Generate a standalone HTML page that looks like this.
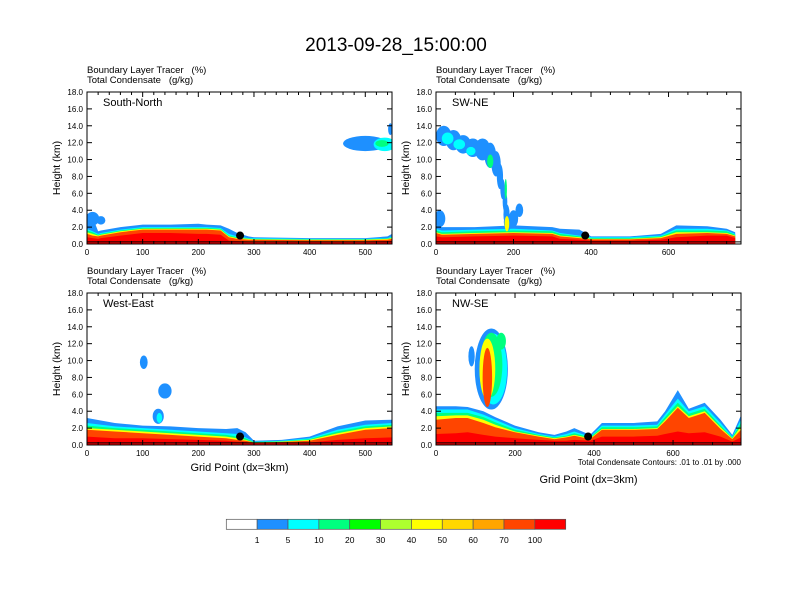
<!DOCTYPE html>
<html><head><meta charset="utf-8"><style>
body{margin:0;background:#fff;width:792px;height:612px;overflow:hidden}
svg{display:block;font-family:"Liberation Sans",sans-serif}
text{white-space:pre}
</style></head><body>
<svg id="c" width="792" height="612">
<text x="396" y="51" font-size="19" text-anchor="middle">2013-09-28_15:00:00</text>
</svg>
<script>
const colorLevels=["1","5","10","20","30","40","50","60","70","100"];
const colorFills=["#ffffff","#1e90ff","#00ffff","#00ff7f","#00ff00","#adff2f","#ffff00","#ffd700","#ffa500","#ff4500","#ff0000"];
const layerColors=["#1e90ff","#00ffff","#00ff7f","#ffff00","#ff4500","#ff0000"];

const snX=[0,10,20,25,60,100,150,200,215,240,255,270,290,300,400,500,540,548];
const snTops=[
[3.6,3.2,1.5,1.6,2.0,2.3,2.3,2.4,2.3,2.2,1.8,1.3,0.9,0.8,0.7,0.7,0.9,1.2],
[1.8,1.5,1.2,1.3,1.7,2.0,2.0,2.0,2.0,1.9,1.2,0.9,0.7,0.7,0.6,0.6,0.7,0.9],
[1.6,1.4,1.1,1.2,1.6,1.9,1.9,1.9,1.9,1.8,1.0,0.8,0.65,0.6,0.55,0.55,0.65,0.8],
[1.4,1.2,1.0,1.1,1.5,1.8,1.8,1.8,1.8,1.7,0.9,0.7,0.6,0.55,0.5,0.5,0.6,0.7],
[1.2,1.0,0.9,1.0,1.4,1.7,1.7,1.7,1.7,1.6,0.8,0.6,0.5,0.5,0.45,0.45,0.5,0.6],
[0.8,0.7,0.6,0.7,1.0,1.3,1.3,1.2,1.2,1.1,0.4,0.35,0.3,0.3,0.3,0.3,0.35,0.4]];
const snBlobX=[10,25,500,535,545,530];
const snBlobZ=[3.0,2.8,11.9,11.8,13.6,11.9];
const snBlobRX=[12,8,40,20,4,12];
const snBlobRZ=[0.8,0.5,0.9,0.8,0.7,0.4];
const snBlobL=[0,0,0,1,0,2];

const swX=[0,15,20,100,200,300,320,370,390,400,500,580,620,700,750,772];
const swTops=[
[2.2,2.0,2.0,2.0,2.2,2.0,1.8,1.7,1.2,0.9,0.9,1.2,2.2,2.1,1.8,1.4],
[1.8,1.6,1.6,1.7,1.8,1.6,1.3,1.0,0.9,0.8,0.8,1.0,1.8,1.8,1.6,1.2],
[1.6,1.4,1.4,1.5,1.6,1.5,1.2,0.9,0.8,0.7,0.7,0.9,1.6,1.6,1.5,1.1],
[1.4,1.2,1.2,1.3,1.4,1.3,1.0,0.8,0.7,0.6,0.6,0.8,1.4,1.4,1.3,1.0],
[1.3,1.1,1.1,1.2,1.3,1.2,0.9,0.7,0.6,0.55,0.55,0.7,1.2,1.3,1.2,0.9],
[0.9,0.8,0.8,0.9,1.0,0.9,0.6,0.5,0.45,0.4,0.4,0.5,0.8,1.0,1.0,0.7]];
const swBlobX=[20,45,70,95,120,140,155,165,172,178,182,185,200,215,10,30,60,90,140,180,183];
const swBlobZ=[12.8,12.3,11.8,11.4,11.2,10.5,9.5,8.0,6.5,5.0,3.5,2.6,3.0,4.0,3.0,12.5,11.8,11.0,9.8,6.5,2.4];
const swBlobRX=[20,20,20,20,20,15,12,8,6,6,8,10,12,10,14,15,15,12,8,3,6];
const swBlobRZ=[1.2,1.2,1.1,1.1,1.3,1.5,1.5,1.5,1.2,1.2,1.2,1.0,1.0,0.8,1.0,0.7,0.6,0.5,0.8,1.2,0.9];
const swBlobL=[0,0,0,0,0,0,0,0,0,0,0,0,0,0,0,1,1,1,2,2,3];

const weX=[0,50,100,150,200,250,270,285,300,350,400,450,500,548];
const weTops=[
[3.2,2.6,2.3,2.2,2.0,1.9,2.0,1.5,0.5,0.6,1.0,2.2,2.9,3.0],
[2.6,2.2,2.0,1.8,1.6,1.4,1.3,0.9,0.4,0.5,0.8,1.8,2.4,2.6],
[2.3,2.0,1.8,1.6,1.4,1.2,1.0,0.8,0.35,0.45,0.7,1.6,2.2,2.4],
[2.0,1.8,1.6,1.4,1.2,1.0,0.8,0.6,0.3,0.4,0.6,1.4,2.0,2.2],
[1.8,1.6,1.4,1.2,1.0,0.8,0.6,0.5,0.3,0.35,0.5,1.2,1.8,2.0],
[1.0,0.8,0.8,0.7,0.6,0.5,0.4,0.35,0.2,0.25,0.3,0.6,0.8,0.9]];
const weBlobX=[102,140,128,130];
const weBlobZ=[9.8,6.4,3.4,3.2];
const weBlobRX=[7,12,10,5];
const weBlobRZ=[0.8,0.9,0.9,0.6];
const weBlobL=[0,0,0,1];

const nwX=[0,50,80,120,150,200,260,300,330,350,390,420,500,560,580,612,640,680,720,750,772];
const nwTops=[
[4.6,4.6,4.5,4.0,3.3,2.3,1.5,1.2,1.6,2.0,1.2,2.6,2.6,2.8,4.0,6.5,4.3,5.0,3.0,1.2,3.5],
[4.2,4.2,4.2,3.6,3.0,2.0,1.3,1.0,1.3,1.6,1.0,2.3,2.3,2.4,3.6,5.5,4.0,4.6,2.6,1.0,3.0],
[3.8,3.8,3.8,3.3,2.7,1.8,1.2,0.9,1.1,1.4,0.9,2.1,2.1,2.2,3.3,5.0,3.7,4.3,2.3,0.9,2.6],
[3.4,3.5,3.5,3.0,2.4,1.6,1.1,0.8,1.0,1.2,0.8,1.9,1.9,2.0,3.0,4.6,3.4,4.0,2.1,0.8,2.2],
[3.0,3.2,3.2,2.6,2.1,1.5,1.0,0.7,0.9,1.1,0.7,1.8,1.8,1.9,2.8,4.4,3.2,3.8,1.9,0.7,1.8],
[1.3,1.4,1.5,1.2,1.0,0.8,0.6,0.5,0.5,0.6,0.5,1.0,1.0,1.1,1.3,1.6,1.4,1.5,1.0,0.4,0.9]];
const nwBlobX=[140,145,140,130,130,90,165];
const nwBlobZ=[9.0,9.0,9.5,9.0,8.0,10.5,12.3];
const nwBlobRX=[42,35,28,20,12,8,12];
const nwBlobRZ=[4.8,4.2,3.8,3.6,3.5,1.2,1.0];
const nwBlobL=[0,1,2,3,4,0,2];

const NS="http://www.w3.org/2000/svg";
const svg=document.getElementById('c');
function el(t,a,p){const e=document.createElementNS(NS,t);for(const k in a)e.setAttribute(k,a[k]);(p||svg).appendChild(e);return e;}

const panels=[
{name:"south-north",title:"South-North",x0:87,y0:92,xmax:548,major:100,minor:20,xs:snX,tops:snTops,bx:snBlobX,bz:snBlobZ,brx:snBlobRX,brz:snBlobRZ,bl:snBlobL,dot:275,xlab:false},
{name:"sw-ne",title:"SW-NE",x0:436,y0:92,xmax:787,major:200,minor:50,xs:swX,tops:swTops,bx:swBlobX,bz:swBlobZ,brx:swBlobRX,brz:swBlobRZ,bl:swBlobL,dot:385,xlab:false},
{name:"west-east",title:"West-East",x0:87,y0:293,xmax:548,major:100,minor:20,xs:weX,tops:weTops,bx:weBlobX,bz:weBlobZ,brx:weBlobRX,brz:weBlobRZ,bl:weBlobL,dot:275,xlab:true},
{name:"nw-se",title:"NW-SE",x0:436,y0:293,xmax:772,major:200,minor:50,xs:nwX,tops:nwTops,bx:nwBlobX,bz:nwBlobZ,brx:nwBlobRX,brz:nwBlobRZ,bl:nwBlobL,dot:385,xlab:true,note:true}];
const W=305,H=152;
panels.forEach((p,pi)=>{
  const g=el('g',{});
  
  
  const sx=v=>p.x0+v/p.xmax*W, sy=z=>p.y0+H-z/18*H;
  const cid='clip'+pi;
  const cp=el('clipPath',{id:cid},g);el('rect',{x:p.x0,y:p.y0,width:W,height:H},cp);
  const fg=el('g',{'clip-path':'url(#'+cid+')'},g);
  p.tops.forEach((tops,li)=>{
    let d='M'+sx(p.xs[0])+','+sy(0);
    p.xs.forEach((x,i)=>{d+=' L'+sx(x).toFixed(1)+','+sy(tops[i]).toFixed(1);});
    d+=' L'+sx(p.xs[p.xs.length-1])+','+sy(0)+' Z';
    const a=el('path',{d:d,fill:layerColors[li]},fg);
    
    
  });
  p.bx.forEach((x,i)=>{
    const e=el('ellipse',{cx:sx(x),cy:sy(p.bz[i]),rx:p.brx[i]/p.xmax*W,ry:p.brz[i]/18*H,fill:layerColors[p.bl[i]]},fg);
    
    
  });
  el('line',{x1:p.x0,x2:p.x0+W,y1:sy(0.25),y2:sy(0.25),stroke:'#000','stroke-width':1},fg);
  const dt=el('circle',{cx:sx(p.dot),cy:sy(1),r:4,fill:'#000'},g);
  
  
  const fr=el('rect',{x:p.x0,y:p.y0,width:W,height:H,fill:'none',stroke:'#000','stroke-width':1},g);
  
  
  for(let z=0;z<=18;z+=2){
    const y=sy(z);
    el('line',{x1:p.x0,x2:p.x0+5,y1:y,y2:y,stroke:'#000'},g);
    el('line',{x1:p.x0+W,x2:p.x0+W-5,y1:y,y2:y,stroke:'#000'},g);
    const t=el('text',{x:p.x0-4,y:y+3,'font-size':8,'text-anchor':'end'},g);t.textContent=z.toFixed(1);
    
    
  }
  for(let v=0;v<=p.xmax;v+=p.minor){
    const x=sx(v),maj=v%p.major===0;const L=maj?5:3;
    el('line',{x1:x,x2:x,y1:p.y0+H,y2:p.y0+H-L,stroke:'#000'},g);
    el('line',{x1:x,x2:x,y1:p.y0,y2:p.y0+L,stroke:'#000'},g);
    if(maj){const t=el('text',{x:x,y:p.y0+H+11,'font-size':8,'text-anchor':'middle'},g);t.textContent=v;
      
      }
  }
  const h1=el('text',{x:p.x0,y:p.y0-19,'font-size':9.5},g);h1.textContent='Boundary Layer Tracer   (%)';
  
  
  const h2=el('text',{x:p.x0,y:p.y0-9,'font-size':9.5},g);h2.textContent='Total Condensate   (g/kg)';
  
  
  const tl=el('text',{x:p.x0+16,y:p.y0+14,'font-size':11},g);tl.textContent=p.title;
  
  
  const yl=el('text',{x:0,y:0,'font-size':10.5,'text-anchor':'middle',transform:'translate('+(p.x0-27)+','+(p.y0+H/2)+') rotate(-90)'},g);yl.textContent='Height (km)';
  
  
  if(p.xlab){const xl=el('text',{x:p.x0+W/2,y:p.y0+H+(p.note?38:26),'font-size':11,'text-anchor':'middle'},g);xl.textContent='Grid Point (dx=3km)';
    
    }
  if(p.note){const n=el('text',{x:p.x0+W,y:p.y0+H+20,'font-size':8,'text-anchor':'end'},g);n.textContent='Total Condensate Contours: .01 to .01 by .000';
    
    }
});
const cb=el('g',{});


const bx0=226.3,bw=(565.7-226.3)/colorFills.length;
colorFills.forEach((c,i)=>{
  const r=el('rect',{x:bx0+i*bw,y:519.3,width:bw,height:10,fill:c,stroke:'#555','stroke-width':0.7},cb);
  
  
});
colorLevels.forEach((l,i)=>{
  const t=el('text',{x:bx0+(i+1)*bw,y:543,'font-size':8.5,'text-anchor':'middle'},cb);t.textContent=l;
  
  
});
</script>
</body></html>
